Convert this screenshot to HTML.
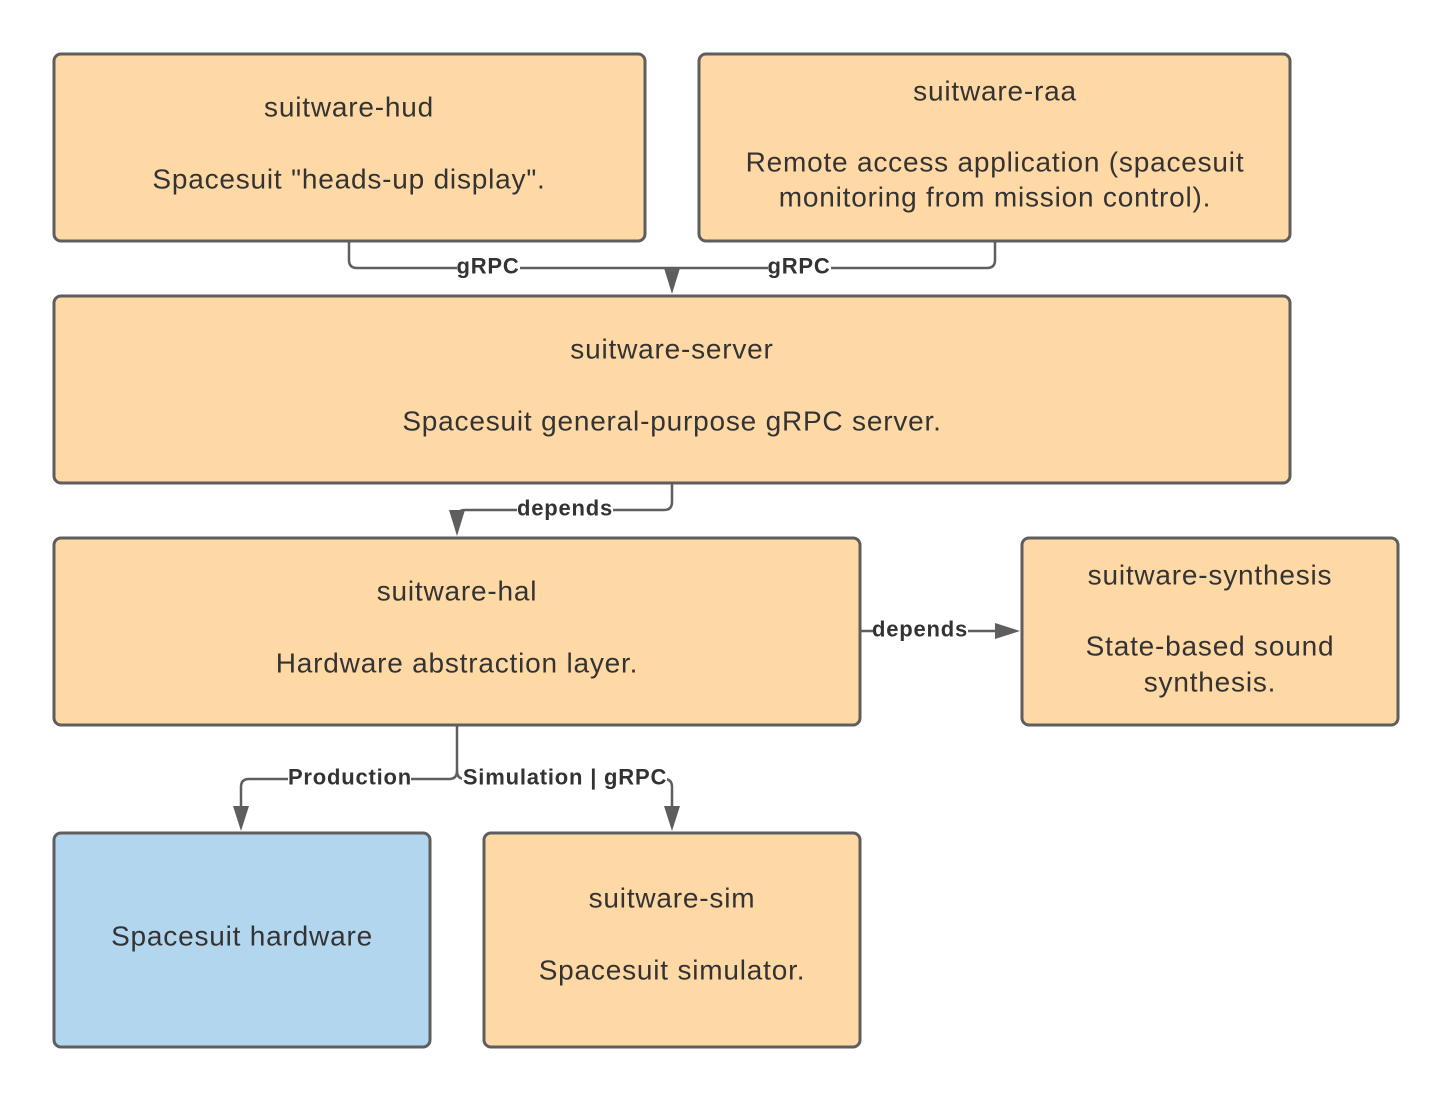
<!DOCTYPE html>
<html><head><meta charset="utf-8"><style>
html,body{margin:0;padding:0;background:#fff;}
svg{display:block;}
.t{font-family:"Liberation Sans",sans-serif;font-size:28px;letter-spacing:0.8px;fill:#333;text-anchor:middle;dominant-baseline:central;}
.l{font-family:"Liberation Sans",sans-serif;font-size:22px;letter-spacing:0.8px;font-weight:bold;fill:#333;text-anchor:middle;dominant-baseline:central;}
.b{fill:#fed9a6;stroke:#5e5e5e;stroke-width:3;}
.c{fill:none;stroke:#5e5e5e;stroke-width:2.5;}
.a{fill:#5e5e5e;}
</style></head><body>
<svg width="1452" height="1103" viewBox="0 0 1452 1103" xmlns="http://www.w3.org/2000/svg">
<path class="c" d="M349 242 V260 Q349 268 357 268 H987 Q995 268 995 260 V242"/>
<line class="c" x1="672" y1="268" x2="672" y2="280"/>
<polygon class="a" points="664,268 680,268 672,294"/>
<path class="c" d="M672 484 V502 Q672 510 664 510 H465 Q457 510 457 518 V522"/>
<polygon class="a" points="449,510 465,510 457,536"/>
<path class="c" d="M861 631 H1000"/>
<polygon class="a" points="995,623 995,639 1020,631"/>
<path class="c" d="M457 726 V771 Q457 779 449 779 H249 Q241 779 241 787 V812"/>
<polygon class="a" points="233,806 249,806 241,831"/>
<path class="c" d="M457 771 Q457 779 465 779 H664 Q672 779 672 787 V812"/>
<polygon class="a" points="664,806 680,806 672,831"/>
<rect x="457" y="254" width="63" height="24" fill="#fff"/><text class="l" x="488" y="266">gRPC</text>
<rect x="768" y="254" width="63" height="24" fill="#fff"/><text class="l" x="799" y="266">gRPC</text>
<rect x="517" y="496" width="96" height="24" fill="#fff"/><text class="l" x="565" y="508">depends</text>
<rect x="873" y="617" width="95" height="24" fill="#fff"/><text class="l" x="920" y="629">depends</text>
<rect x="288" y="765" width="123" height="24" fill="#fff"/><text class="l" x="350" y="777">Production</text>
<rect x="462" y="765" width="205" height="24" fill="#fff"/><text class="l" x="565" y="777">Simulation | gRPC</text>
<rect class="b" x="54" y="54" width="591" height="187" rx="7"/>
<text class="t" x="349" y="107">suitware-hud</text>
<text class="t" x="349" y="179">Spacesuit "heads-up display".</text>
<rect class="b" x="699" y="54" width="591" height="187" rx="7"/>
<text class="t" x="995" y="91">suitware-raa</text>
<text class="t" x="995" y="162">Remote access application (spacesuit</text>
<text class="t" x="995" y="197">monitoring from mission control).</text>
<rect class="b" x="54" y="296" width="1236" height="187" rx="7"/>
<text class="t" x="672" y="349">suitware-server</text>
<text class="t" x="672" y="421">Spacesuit general-purpose gRPC server.</text>
<rect class="b" x="54" y="538" width="806" height="187" rx="7"/>
<text class="t" x="457" y="591">suitware-hal</text>
<text class="t" x="457" y="663">Hardware abstraction layer.</text>
<rect class="b" x="1022" y="538" width="376" height="187" rx="7"/>
<text class="t" x="1210" y="575">suitware-synthesis</text>
<text class="t" x="1210" y="646">State-based sound</text>
<text class="t" x="1210" y="682">synthesis.</text>
<rect class="b" x="54" y="833" width="376" height="214" rx="7" style="fill:#b3d6ef"/>
<text class="t" x="242" y="936">Spacesuit hardware</text>
<rect class="b" x="484" y="833" width="376" height="214" rx="7"/>
<text class="t" x="672" y="898">suitware-sim</text>
<text class="t" x="672" y="970">Spacesuit simulator.</text>
</svg>
</body></html>
